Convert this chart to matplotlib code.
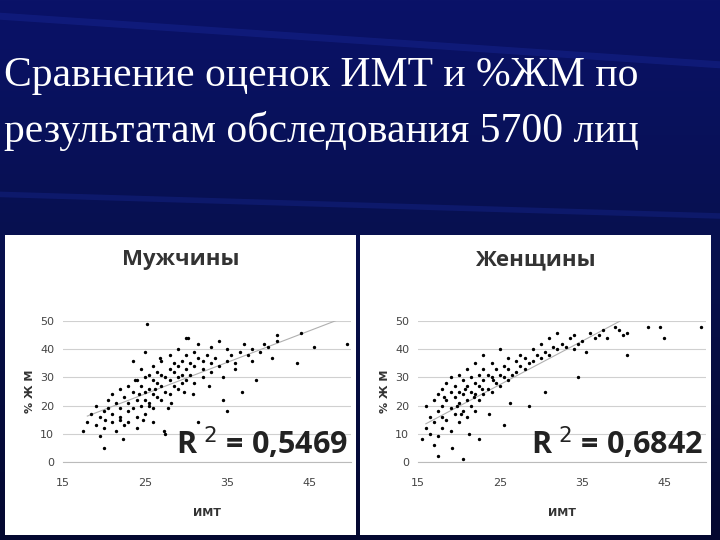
import matplotlib.pyplot as plt
import numpy as np

# Men: (BMI, body fat %) sample of points
men_points = [
    (17.5, 11), (18, 14), (18.5, 17), (19, 13), (19, 20), (19.5, 16), (19.5, 9), (20, 18), (20, 12), (20.2, 15),
    (20.5, 22), (20.5, 19), (21, 14), (21, 24), (21, 17), (21.5, 21), (21.5, 11), (22, 19), (22, 26), (22, 15),
    (22.3, 8), (22.5, 23), (22.5, 13), (23, 18), (23, 27), (23, 21), (23, 14), (23.5, 25), (23.5, 19), (23.5, 36),
    (24, 22), (24, 29), (24, 16), (24, 12), (24.3, 24), (24.5, 27), (24.5, 20), (24.5, 33), (25, 25), (25, 30),
    (25, 22), (25, 17), (25, 39), (25.3, 49), (25.5, 26), (25.5, 31), (25.5, 21), (26, 24), (26, 29), (26, 19),
    (26, 34), (26, 14), (26.5, 28), (26.5, 23), (26.5, 32), (27, 27), (27, 31), (27, 36), (27, 22), (27.3, 11),
    (27.5, 30), (27.5, 25), (28, 29), (28, 33), (28, 38), (28, 24), (28.5, 32), (28.5, 27), (28.5, 35), (29, 30),
    (29, 34), (29, 40), (29, 26), (29.5, 31), (29.5, 28), (29.5, 36), (30, 33), (30, 38), (30, 29), (30, 44),
    (30.5, 35), (30.5, 31), (31, 34), (31, 39), (31, 28), (31.5, 37), (31.5, 42), (32, 33), (32, 36), (32, 30),
    (32.5, 38), (33, 35), (33, 32), (33, 41), (33.5, 37), (34, 34), (34, 43), (34.5, 30), (35, 36), (35, 40),
    (35.5, 38), (36, 33), (36, 35), (36.5, 39), (37, 42), (37.5, 38), (38, 40), (38, 36), (38.5, 29), (39, 39),
    (39.5, 42), (40, 41), (40.5, 37), (41, 45), (41, 43), (43.5, 35), (44, 46), (45.5, 41), (49.5, 42),
    (25.5, 20), (22, 16), (31.5, 14), (35, 18), (27.5, 10), (20, 5), (34.5, 22), (36.8, 25), (30.2, 44),
    (26.8, 37), (23.8, 29), (24.8, 15), (27.8, 19), (29.8, 25), (32.8, 27), (28.2, 21), (26.2, 26), (30.8, 24),
]
# Women
women_points = [
    (15.5, 8), (16, 12), (16, 20), (16.5, 10), (16.5, 16), (17, 6), (17, 14), (17, 22), (17.5, 9), (17.5, 18),
    (17.5, 24), (18, 12), (18, 20), (18, 26), (18, 16), (18.5, 15), (18.5, 22), (18.5, 28), (19, 11), (19, 19),
    (19, 25), (19, 30), (19.5, 17), (19.5, 23), (19.5, 27), (20, 14), (20, 21), (20, 25), (20, 31), (20.5, 18),
    (20.5, 24), (20.5, 29), (21, 16), (21, 22), (21, 27), (21, 33), (21.5, 20), (21.5, 25), (21.5, 30), (22, 18),
    (22, 24), (22, 28), (22, 35), (22.5, 22), (22.5, 27), (22.5, 31), (23, 24), (23, 29), (23, 33), (23, 38),
    (23.5, 26), (23.5, 31), (24, 25), (24, 30), (24, 35), (24.5, 28), (24.5, 33), (25, 27), (25, 31), (25, 40),
    (25.5, 30), (25.5, 34), (26, 29), (26, 33), (26, 37), (26.5, 31), (27, 32), (27, 36), (27.5, 34), (27.5, 38),
    (28, 33), (28, 37), (28.5, 35), (29, 36), (29, 40), (29.5, 38), (30, 37), (30, 42), (30.5, 39), (31, 38),
    (31, 44), (31.5, 41), (32, 40), (32, 46), (32.5, 42), (33, 41), (33.5, 44), (34, 40), (34, 45), (34.5, 42),
    (35, 43), (35.5, 39), (36, 46), (36.5, 44), (37, 45), (37.5, 47), (38, 44), (39, 48), (39.5, 47), (40, 45),
    (40.5, 46), (40.5, 38), (43, 48), (44.5, 48), (45, 44), (49.5, 48),
    (20.5, 1), (17.5, 2), (22.5, 8), (25.5, 13), (28.5, 20), (34.5, 30), (30.5, 25), (19.2, 5), (21.2, 10),
    (23.7, 17), (26.2, 21), (18.2, 23), (20.8, 26), (19.8, 20), (21.8, 23), (22.8, 26), (24.2, 29), (20.3, 17),
]
men_r2 = "0,5469"
women_r2 = "0,6842"

fig = plt.figure(figsize=(7.2, 5.4), dpi=100)
bg = fig.add_axes([0, 0, 1, 1])
grad = np.linspace(0, 1, 256).reshape(-1, 1)
bg.imshow(grad, aspect='auto', cmap=plt.matplotlib.colors.LinearSegmentedColormap.from_list(
    'b', ['#0a1268', '#07104c', '#040830']), extent=[0, 1, 0, 1])
bg.plot([0, 1], [0.97, 0.88], color='#1a2a9a', lw=5, alpha=0.4)
bg.plot([0, 1], [0.64, 0.60], color='#1a2a9a', lw=4, alpha=0.35)
bg.set_xlim(0, 1); bg.set_ylim(0, 1); bg.axis('off')
fig.text(0.005, 0.86, "Сравнение оценок ИМТ и %ЖМ по", color='white', fontsize=30,
         family='Liberation Serif', va='center')
fig.text(0.005, 0.758, "результатам обследования 5700 лиц", color='white', fontsize=30,
         family='Liberation Serif', va='center')


def panel(left, title, points, slope, x0, y0, r2):
    bmi = [p[0] for p in points]
    fat = [p[1] for p in points]
    bgp = fig.add_axes([left, 0.01, 0.487, 0.555])
    bgp.set_facecolor('white'); bgp.set_xticks([]); bgp.set_yticks([])
    for s in bgp.spines.values():
        s.set_visible(False)
    bgp.text(0.5, 0.9, title, transform=bgp.transAxes, ha='center', fontsize=16,
             fontweight='bold', color='#333333', family='Open Sans')
    ax = fig.add_axes([left + 0.08, 0.145, 0.40, 0.26])
    ax.scatter(bmi, fat, s=2, color='black', zorder=3)
    xs = np.array([x0, 50])
    ax.plot(xs, y0 + slope * (xs - x0), color='#b0b0b0', lw=0.8, zorder=2)
    ax.set_xlim(15, 50); ax.set_ylim(0, 50)
    ax.set_xticks([15, 25, 35, 45]); ax.set_yticks(range(0, 51, 10))
    ax.grid(axis='y', color='#d0d0d0', lw=0.8); ax.set_axisbelow(True)
    for s in ['top', 'right', 'left']:
        ax.spines[s].set_visible(False)
    ax.spines['bottom'].set_color('#bbbbbb')
    ax.tick_params(length=0, labelsize=8, colors='#444444', pad=6)
    ax.tick_params(axis='x', pad=12)
    ax.set_ylabel("% Ж М", fontsize=8, color='#333333', fontweight='bold')
    ax.set_xlabel("ИМТ", fontsize=8, color='#333333', fontweight='bold', labelpad=14)
    ax.text(0.99, 0.0, r"R$^{\ 2}$ = " + r2, transform=ax.transAxes, ha='right', va='bottom',
            fontsize=22, fontweight='bold', family='Open Sans', color='#222222')


panel(0.007, "Мужчины", men_points, 1.125, 18, 16.25, men_r2)
panel(0.5, "Женщины", women_points, 1.55, 16, 13.5, women_r2)
fig.savefig('out.png', dpi=100)
